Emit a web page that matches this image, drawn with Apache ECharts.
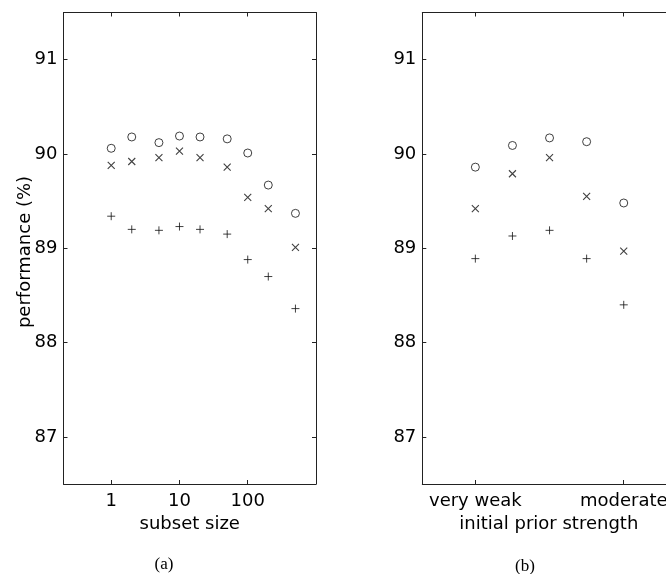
<!DOCTYPE html>
<html>
<head>
<meta charset="utf-8">
<script src="https://cdn.jsdelivr.net/npm/echarts@6/dist/echarts.min.js"></script>
<style>html,body{margin:0;padding:0;background:#fff;}#c{width:666px;height:574px;}</style>
</head>
<body>
<div id="c"></div>
<script>
// Panel (a): subset size (log scale)
var subsetSizes = [1, 2, 5, 10, 20, 50, 100, 200, 500];
var aCircle = [90.06, 90.18, 90.12, 90.19, 90.18, 90.16, 90.01, 89.67, 89.37];
var aCross  = [89.88, 89.92, 89.96, 90.03, 89.96, 89.86, 89.54, 89.42, 89.01];
var aPlus   = [89.34, 89.20, 89.19, 89.23, 89.20, 89.15, 88.88, 88.70, 88.36];
var aTicks = [1, 10, 100];

// Panel (b): initial prior strength
var priorLevels = [1, 2, 3, 4, 5];
var bCircle = [89.86, 90.09, 90.17, 90.13, 89.48];
var bCross  = [89.42, 89.79, 89.96, 89.55, 88.97];
var bPlus   = [88.89, 89.13, 89.19, 88.89, 88.40];
var bTickValues = [1, 5];
var bTickLabels = {1: 'very weak', 5: 'moderate'};

var yTicks = [87, 88, 89, 90, 91];

var FONT = 'DejaVu Sans';
var LINE = '#222';

function pairs(xs, ys) { return xs.map(function (x, i) { return [x, ys[i]]; }); }

var crossPath = 'path://M0,0L10,10M10,0L0,10';
var plusPath = 'path://M5,0L5,10M0,5L10,5';

function seriesFor(idx, c, x, p, xs) {
  return [
    {type: 'scatter', xAxisIndex: idx * 2, yAxisIndex: idx * 2, data: pairs(xs, c),
     symbol: 'circle', symbolSize: 8, silent: true,
     itemStyle: {color: 'rgba(0,0,0,0)', borderColor: '#111', borderWidth: 1}},
    {type: 'scatter', xAxisIndex: idx * 2, yAxisIndex: idx * 2, data: pairs(xs, x),
     symbol: crossPath, symbolSize: 7, silent: true,
     itemStyle: {color: 'rgba(0,0,0,0)', borderColor: '#111', borderWidth: 1.1}},
    {type: 'scatter', xAxisIndex: idx * 2, yAxisIndex: idx * 2, data: pairs(xs, p),
     symbol: plusPath, symbolSize: 8, silent: true,
     itemStyle: {color: 'rgba(0,0,0,0)', borderColor: '#111', borderWidth: 1}}
  ];
}

function yAx(grid, pos, showLabel) {
  return {
    type: 'value', gridIndex: grid, position: pos, min: 86.5, max: 91.5,
    splitLine: {show: false},
    axisLine: {show: true, onZero: false, lineStyle: {color: LINE, width: 1}},
    axisTick: {show: true, inside: true, length: 4, customValues: yTicks, lineStyle: {color: LINE}},
    axisLabel: {show: showLabel, customValues: yTicks, fontFamily: FONT, fontSize: 18, color: '#000', margin: 6}
  };
}

function xLine() { return {show: true, onZero: false, lineStyle: {color: LINE}}; }

var option = {
  animation: false,
  backgroundColor: '#fff',
  grid: [
    {left: 63.5, top: 12.5, width: 252.5, height: 471.5, outerBoundsMode: 'none', containLabel: false},
    {left: 422.3, top: 12.5, width: 253, height: 471.5, outerBoundsMode: 'none', containLabel: false}
  ],
  xAxis: [
    {type: 'log', logBase: 10, gridIndex: 0, position: 'bottom', min: 0.2, max: 1000,
     name: 'subset size', nameLocation: 'middle', nameGap: 30,
     nameTextStyle: {fontFamily: FONT, fontSize: 18, color: '#000'},
     splitLine: {show: false},
     axisLine: xLine(),
     axisTick: {show: true, inside: true, length: 4, customValues: aTicks, lineStyle: {color: LINE}},
     axisLabel: {customValues: aTicks, fontFamily: FONT, fontSize: 18, color: '#000', margin: 8}},
    {type: 'log', logBase: 10, gridIndex: 0, position: 'top', min: 0.2, max: 1000,
     splitLine: {show: false},
     axisLine: xLine(),
     axisTick: {show: true, inside: true, length: 4, customValues: aTicks, lineStyle: {color: LINE}},
     axisLabel: {show: false}},
    {type: 'value', gridIndex: 1, position: 'bottom', min: -0.43, max: 6.39,
     name: 'initial prior strength', nameLocation: 'middle', nameGap: 30,
     nameTextStyle: {fontFamily: FONT, fontSize: 18, color: '#000'},
     splitLine: {show: false},
     axisLine: xLine(),
     axisTick: {show: true, inside: true, length: 4, customValues: bTickValues, lineStyle: {color: LINE}},
     axisLabel: {customValues: bTickValues, fontFamily: FONT, fontSize: 18, color: '#000', margin: 8,
       formatter: function (v) { return bTickLabels[Math.round(v)] || ''; }}},
    {type: 'value', gridIndex: 1, position: 'top', min: -0.43, max: 6.39,
     splitLine: {show: false},
     axisLine: xLine(),
     axisTick: {show: true, inside: true, length: 4, customValues: bTickValues, lineStyle: {color: LINE}},
     axisLabel: {show: false}}
  ],
  yAxis: [
    yAx(0, 'left', true), yAx(0, 'right', false),
    yAx(1, 'left', true), yAx(1, 'right', false)
  ],
  graphic: [
    {type: 'text', x: 25, y: 252, rotation: Math.PI / 2,
     style: {text: 'performance (%)', fontFamily: FONT, fontSize: 18, fill: '#000', textAlign: 'center', textVerticalAlign: 'middle'}},
    {type: 'text', x: 164, y: 565,
     style: {text: '(a)', fontFamily: 'Liberation Serif', fontSize: 17, fill: '#000', textAlign: 'center', textVerticalAlign: 'middle'}},
    {type: 'text', x: 525, y: 567,
     style: {text: '(b)', fontFamily: 'Liberation Serif', fontSize: 17, fill: '#000', textAlign: 'center', textVerticalAlign: 'middle'}}
  ],
  series: [].concat(
    seriesFor(0, aCircle, aCross, aPlus, subsetSizes),
    seriesFor(1, bCircle, bCross, bPlus, priorLevels)
  )
};

var chart = echarts.init(document.getElementById('c'), null, {renderer: 'canvas'});
chart.setOption(option);
</script>
</body>
</html>
